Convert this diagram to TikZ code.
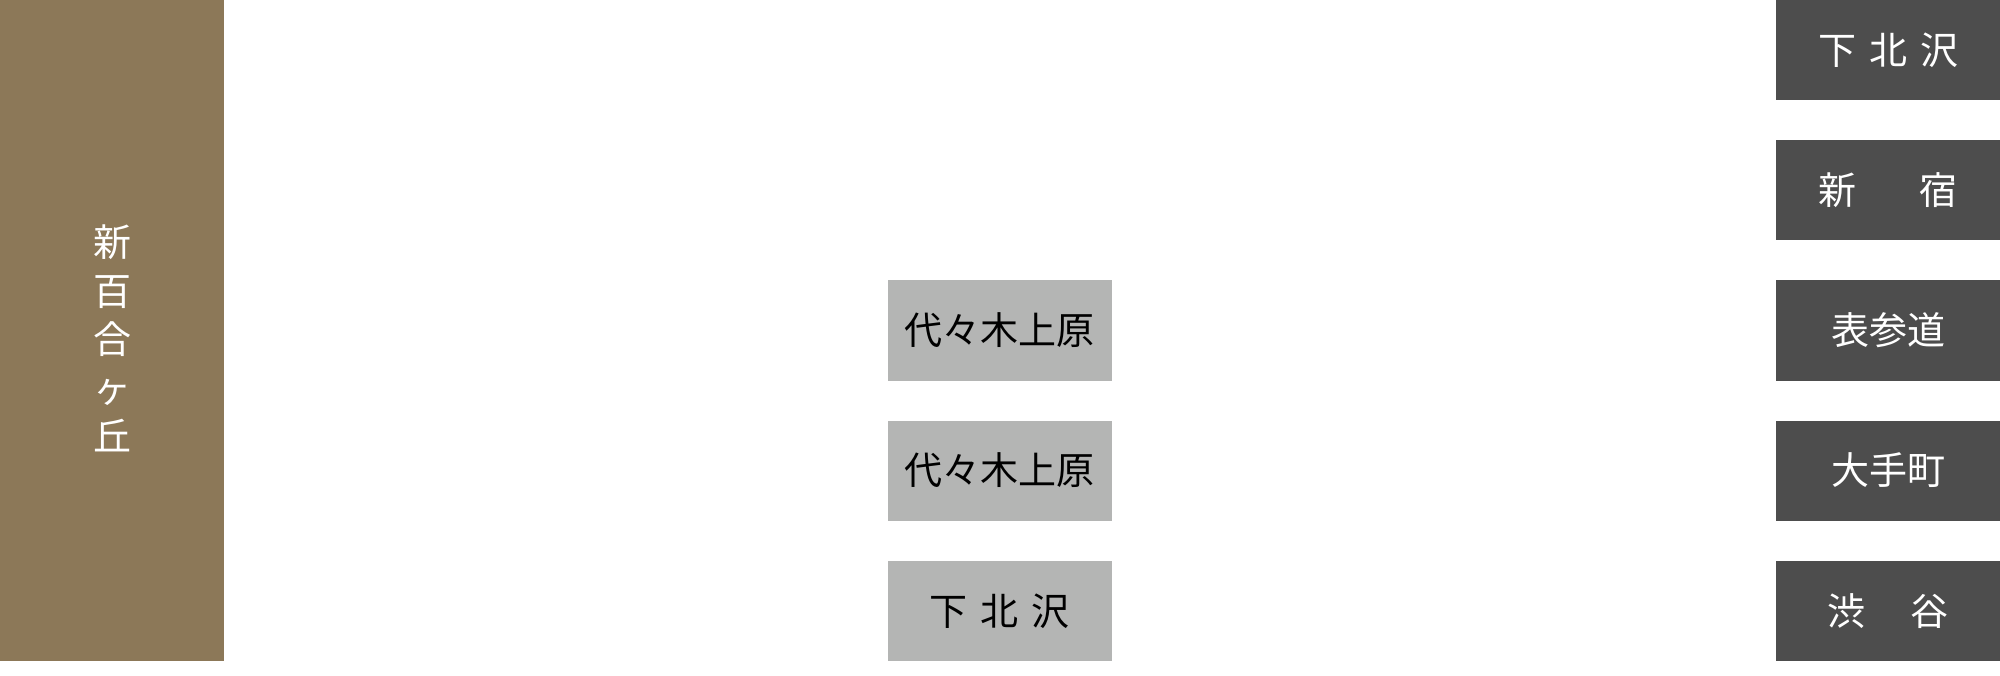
\documentclass[tikz,border=0pt]{standalone}
\usepackage{fontspec}
\newfontfamily\jp{Noto Sans CJK JP}
\definecolor{brownbox}{HTML}{8C7858}
\definecolor{graybox}{HTML}{B4B5B4}
\definecolor{darkbox}{HTML}{4D4D4D}
\begin{document}
\begin{tikzpicture}[x=1pt,y=-1pt,
  station/.style={rectangle,inner sep=0pt,minimum width=224pt,minimum height=100pt,
    font=\jp\fontsize{38}{46}\selectfont},
  darkst/.style={station,fill=darkbox,text=white},
  grayst/.style={station,fill=graybox,text=black},
  origin/.style={rectangle,inner sep=0pt,minimum width=224pt,minimum height=661pt,
    fill=brownbox,text=white,align=center,
    font=\jp\fontsize{38}{48.5}\selectfont}]
\useasboundingbox (0,0) rectangle (2000,676);
\node[origin] (shinyuri) at (112,330.5) {};
\node[text=white,align=center,inner sep=0pt,font=\jp\fontsize{38}{48.5}\selectfont]
  (shinyurilabel) at ([yshift=-8pt]shinyuri.center) {新\\百\\合\\ヶ\\丘};
\node[grayst] (g1) at (999.5,330.5) {代々木上原};
\node[grayst] (g2) at (999.5,470.5) {代々木上原};
\node[grayst] (g3) at (999.5,611) {下\hspace{13pt}北\hspace{13pt}沢};
\node[darkst] (d1) at (1888,50) {下\hspace{13pt}北\hspace{13pt}沢};
\node[darkst] (d2) at (1888,190) {新\hspace{63pt}宿};
\node[darkst] (d3) at (1888,330.5) {表参道};
\node[darkst] (d4) at (1888,470.5) {大手町};
\node[darkst] (d5) at (1888,611) {渋\hspace{45pt}谷};
\end{tikzpicture}
\end{document}
